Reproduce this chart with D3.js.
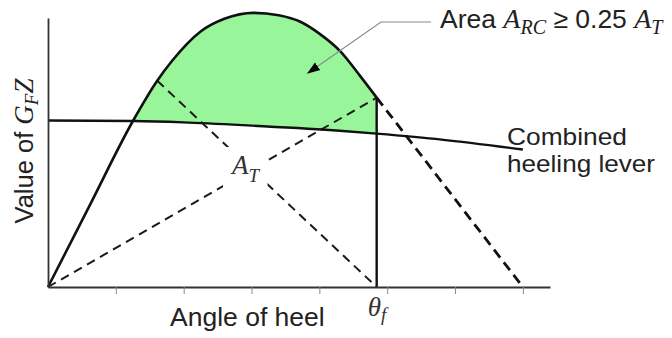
<!DOCTYPE html>
<html>
<head>
<meta charset="utf-8">
<script src="https://cdn.jsdelivr.net/npm/d3@7"></script>
<style>
  html, body { margin: 0; padding: 0; background: #fff; }
  svg { display: block; }
  .sans { font-family: "Liberation Sans", Arial, Helvetica, sans-serif; }
  .serif { font-family: "Liberation Serif", "Times New Roman", serif; font-style: italic; }
</style>
</head>
<body>
<svg id="chart" width="672" height="338"></svg>
<script>
// ---------- data ----------
const gzAngles   = [0, 6, 12.56, 16.1, 18.3, 22.5, 26, 30.3, 34, 37.2, 40, 43.1, 46, 48.45];
const gzValues   = [0, 0.296, 0.619, 0.767, 0.841, 0.950, 0.997, 1.019, 1.010, 0.986, 0.942, 0.876, 0.785, 0.704];
const gzTailAngles = [48.45, 70];
const gzTailValues = [0.704, 0];
const heelAngles = [0, 12.56, 20, 30, 43, 48.45, 58, 70];
const heelValues = [0.619, 0.617, 0.612, 0.600, 0.581, 0.570, 0.548, 0.511];
const thetaF = 48.45;
const thetaFValue = 0.704;
const triAngles1 = [0, thetaF];      // dashed: origin -> GZ at theta_f
const triValues1 = [0, thetaFValue];
const triAngles2 = [16.1, thetaF];   // dashed: GZ point -> foot of theta_f
const triValues2 = [0.767, 0];
const xTicks = [10, 20, 30, 40, 50, 60, 70];

// ---------- layout ----------
const svg = d3.select("#chart");
const x = d3.scaleLinear().domain([0, 74]).range([48, 550]);
const y = d3.scaleLinear().domain([0, 1]).range([287, 18]);

const zip = (a, b) => a.map((d, i) => [d, b[i]]);
const gz = zip(gzAngles, gzValues);
const gzTail = zip(gzTailAngles, gzTailValues);
const heel = zip(heelAngles, heelValues);

const line = d3.line().x(d => x(d[0])).y(d => y(d[1])).curve(d3.curveMonotoneX);
const straight = d3.line().x(d => x(d[0])).y(d => y(d[1]));

// ---------- clip paths ----------
const defs = svg.append("defs");
defs.append("clipPath").attr("id", "leftOfTheta")
  .append("rect").attr("x", x(0)).attr("y", 0)
  .attr("width", x(thetaF) - x(0)).attr("height", y(0));
defs.append("clipPath").attr("id", "aboveHeel")
  .append("path")
  .attr("d", line(heel) + `L${x(70)},0L${x(0)},0Z`);
defs.append("marker").attr("id", "arrow")
  .attr("viewBox", "0 0 10 10").attr("refX", 9).attr("refY", 5)
  .attr("markerWidth", 13).attr("markerHeight", 13)
  .attr("markerUnits", "userSpaceOnUse")
  .attr("orient", "auto")
  .append("path").attr("d", "M0,1.5L10,5L0,8.5Z").attr("fill", "#000");

// ---------- green area ----------
const area = d3.area().x(d => x(d[0])).y0(y(0)).y1(d => y(d[1])).curve(d3.curveMonotoneX);
svg.append("g").attr("clip-path", "url(#leftOfTheta)")
  .append("path")
  .attr("clip-path", "url(#aboveHeel)")
  .attr("d", area(gz))
  .attr("fill", "#99f599");

// ---------- A_T dashed triangle lines ----------
svg.append("path").attr("d", straight(zip(triAngles1, triValues1)))
  .attr("fill", "none").attr("stroke", "#1a1a1a").attr("stroke-width", 2)
  .attr("stroke-dasharray", "9,6");
svg.append("path").attr("d", straight(zip(triAngles2, triValues2)))
  .attr("fill", "none").attr("stroke", "#1a1a1a").attr("stroke-width", 2)
  .attr("stroke-dasharray", "9,6");

// label A_T with white halo box
const atG = svg.append("g");
const atText = atG.append("text").attr("class", "serif")
  .attr("x", 232).attr("y", 174).attr("font-size", 27).attr("fill", "#333");
atText.append("tspan").text("A");
atText.append("tspan").attr("font-size", 19).attr("dy", 8).text("T");
const bb = atText.node().getBBox();
atG.insert("rect", "text").attr("x", bb.x - 7).attr("y", bb.y - 3)
  .attr("width", bb.width + 14).attr("height", bb.height + 6).attr("fill", "#fff");

// ---------- heeling lever ----------
svg.append("path").attr("d", line(heel))
  .attr("fill", "none").attr("stroke", "#111").attr("stroke-width", 2.4);

// ---------- GZ curve ----------
svg.append("path").attr("d", line(gz))
  .attr("fill", "none").attr("stroke", "#111").attr("stroke-width", 2.6);
svg.append("path").attr("d", straight(gzTail))
  .attr("fill", "none").attr("stroke", "#111").attr("stroke-width", 2.8)
  .attr("stroke-dasharray", "10,6");

// ---------- theta_f vertical ----------
svg.append("line")
  .attr("x1", x(thetaF)).attr("x2", x(thetaF))
  .attr("y1", y(0)).attr("y2", y(thetaFValue))
  .attr("stroke", "#111").attr("stroke-width", 2.4);

// ---------- axes ----------
const xAxis = d3.axisBottom(x).tickValues(xTicks).tickSize(7).tickSizeOuter(0).tickFormat("");
const gx = svg.append("g").attr("transform", `translate(0,${y(0)})`).call(xAxis);
gx.select(".domain").attr("stroke", "#333").attr("stroke-width", 1.8);
gx.selectAll(".tick line").attr("stroke", "#888").attr("stroke-width", 1);

const yAxis = d3.axisLeft(y).tickValues([]).tickSizeOuter(0);
const gy = svg.append("g").attr("transform", `translate(${x(0)},0)`).call(yAxis);
gy.select(".domain").attr("stroke", "#333").attr("stroke-width", 1.8);

// ---------- texts ----------
const txtColor = "#222";
const fs = 26.5;
svg.append("text").attr("class", "sans").attr("x", 170).attr("y", 326)
  .attr("font-size", fs).attr("fill", txtColor).text("Angle of heel");

const th = svg.append("text").attr("class", "serif").attr("x", x(thetaF) - 9).attr("y", 316)
  .attr("font-size", 27).attr("fill", "#333");
th.append("tspan").text("θ");
th.append("tspan").attr("font-size", 19).attr("dy", 5).text("f");

const yl = svg.append("text").attr("class", "sans")
  .attr("transform", "translate(33,151) rotate(-90)")
  .attr("text-anchor", "middle").attr("font-size", 25.5).attr("fill", txtColor);
yl.append("tspan").text("Value of ");
yl.append("tspan").attr("class", "serif").attr("font-size", 27).text("G");
yl.append("tspan").attr("class", "serif").attr("font-size", 19).attr("dy", 5).text("F");
yl.append("tspan").attr("class", "serif").attr("font-size", 27).attr("dy", -5).text("Z");

svg.append("text").attr("class", "sans").attr("x", 507).attr("y", 145)
  .attr("font-size", 24).attr("fill", txtColor)
  .attr("textLength", 120).attr("lengthAdjust", "spacingAndGlyphs").text("Combined");
svg.append("text").attr("class", "sans").attr("x", 507).attr("y", 172)
  .attr("font-size", 24).attr("fill", txtColor)
  .attr("textLength", 148).attr("lengthAdjust", "spacingAndGlyphs").text("heeling lever");

const ar = svg.append("text").attr("class", "sans").attr("x", 440).attr("y", 28)
  .attr("font-size", fs).attr("fill", txtColor);
ar.append("tspan").text("Area ");
ar.append("tspan").attr("class", "serif").attr("font-size", 28).text("A");
ar.append("tspan").attr("class", "serif").attr("font-size", 20).attr("dy", 6).text("RC");
ar.append("tspan").attr("dy", -6).text(" ≥ 0.25 ");
ar.append("tspan").attr("class", "serif").attr("font-size", 28).text("A");
ar.append("tspan").attr("class", "serif").attr("font-size", 20).attr("dy", 6).text("T");

// leader with arrow
svg.append("path").attr("d", "M431,22L381,22L308,73")
  .attr("fill", "none").attr("stroke", "#888").attr("stroke-width", 1.1)
  .attr("marker-end", "url(#arrow)");
</script>
</body>
</html>
